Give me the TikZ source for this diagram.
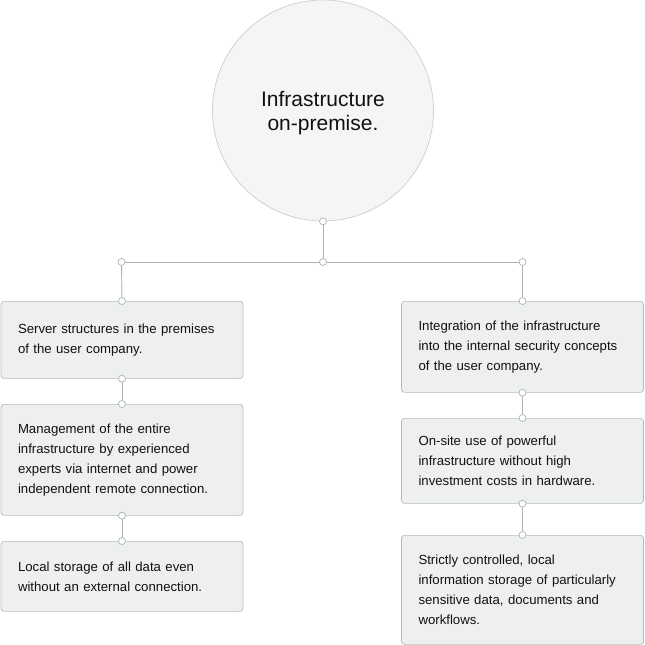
\documentclass[tikz,border=0pt]{standalone}
\usepackage{fontspec}
\setmainfont{Liberation Sans}
\usetikzlibrary{positioning}
\definecolor{linkgray}{HTML}{A9B5B2}
\definecolor{boxgray}{HTML}{B4BCB9}
\definecolor{boxfill}{HTML}{EEF0EF}
\definecolor{hubfill}{HTML}{F5F5F5}
\definecolor{hubline}{HTML}{C9D0CD}
\definecolor{ink}{HTML}{111111}
\tikzset{
%
  % For the connecting lines.
  link/.style={
    draw=linkgray,
    line width=0.9pt},
%
  % For the small round joints.
  joint/.style={
    circle,
    draw=linkgray,
    fill=white,
    line width=0.7pt,
    inner sep=0pt,
    minimum size=7pt},
%
  % For the big circle at the top.
  hub/.style={
    circle,
    draw=hubline,
    fill=hubfill,
    line width=0.7pt,
    minimum size=221pt,
    inner sep=0pt},
%
  % For the title inside the big circle.
  title/.style={
    align=center,
    text=ink,
    font=\fontsize{21}{24}\selectfont},
%
  % For the boxes in general.
  box/.style={
    draw=boxgray,
    fill=boxfill,
    line width=0.7pt,
    rounded corners=3pt,
    text width=208pt,
    inner xsep=17pt,
    align=left,
    anchor=north,
    text=ink,
    font=\fontsize{13.2}{20}\selectfont}
}

\begin{document}
\begin{tikzpicture}[x=1pt,y=1pt]
  \useasboundingbox (0,0) rectangle (645,-645);

  \node[hub] (T) at (323,-110.5) {};
  \node[title] (Tt) [below=-23pt of T.center] {Infrastructure\\on-premise.};

  \coordinate (H) at (323,-262);
  \coordinate (HL) at (121.5,-262);
  \coordinate (HR) at (522.5,-262);

  \node[box, minimum height=77pt] (L1) at (122,-301)
    {Server structures in the premises\\of the user company.};
  \node[box, minimum height=111pt] (L2) at (122,-404)
    {Management of the entire\\infrastructure by experienced\\experts via internet and power\\independent remote connection.};
  \node[box, minimum height=70pt] (L3) at (122,-541)
    {Local storage of all data even\\without an external connection.};

  \node[box, minimum height=91pt] (R1) at (522.5,-301)
    {Integration of the infrastructure\\into the internal security concepts\\of the user company.};
  \node[box, minimum height=85pt] (R2) at (522.5,-418)
    {On-site use of powerful\\infrastructure without high\\investment costs in hardware.};
  \node[box, minimum height=109pt] (R3) at (522.5,-535)
    {Strictly controlled, local\\information storage of particularly\\sensitive data, documents and\\workflows.};

  \draw[link] (T.south) -- (H);
  \draw[link] (HL) -- (HR);
  \draw[link] (HL) -- (L1.north);
  \draw[link] (HR) -- (R1.north);
  \draw[link] (L1.south) -- (L2.north);
  \draw[link] (L2.south) -- (L3.north);
  \draw[link] (R1.south) -- (R2.north);
  \draw[link] (R2.south) -- (R3.north);

  \foreach \p in {T.south, H, HL, HR, L1.north, L1.south, L2.north,
    L2.south, L3.north, R1.north, R1.south, R2.north, R2.south, R3.north}
    \node[joint] at (\p) {};
\end{tikzpicture}
\end{document}
